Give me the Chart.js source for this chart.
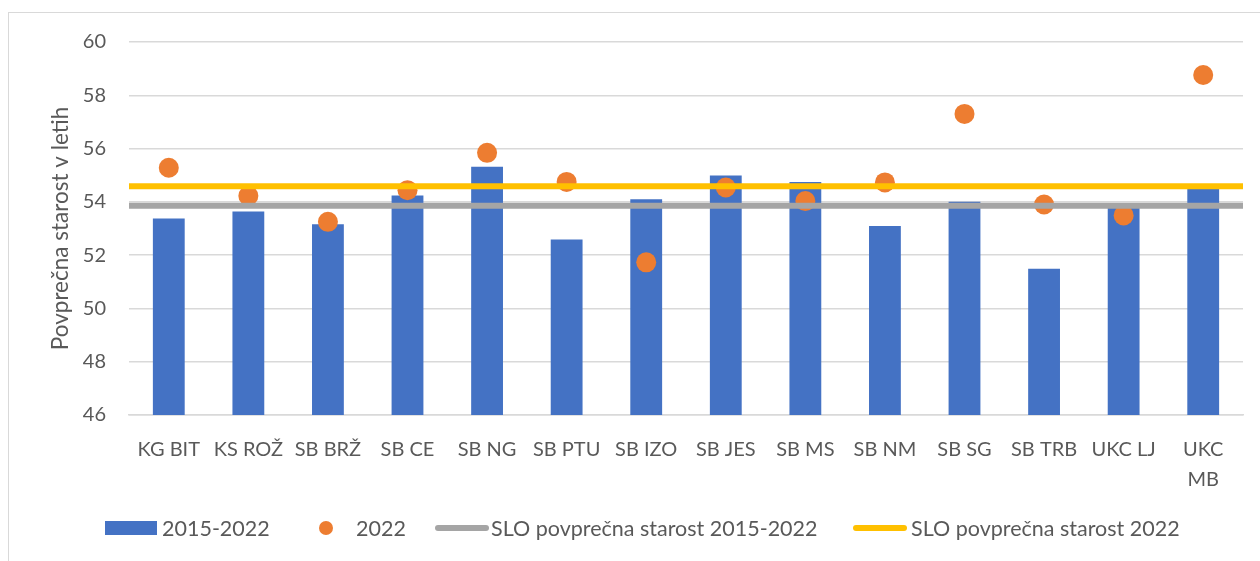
<!DOCTYPE html>
<html>
<head>
<meta charset="utf-8">
<script src="https://cdn.jsdelivr.net/npm/chart.js@4/dist/chart.umd.min.js"></script>
<style>
  body { margin: 0; background: #fff; overflow: hidden; font-family: Lato, sans-serif; }
  #wrap { position: relative; width: 1260px; height: 561px; }
  #frame { position: absolute; left: 8px; top: 12px; width: 1300px; height: 600px; border: 1px solid #d9d9d9; }
  #chart-age { position: absolute; left: 0; top: 0; }
  .lg { position: absolute; top: 528px; transform: translateY(-50%); }
  .lg-text { position: absolute; top: 528px; transform: translateY(-50%); font-size: 21.5px; color: #595959; white-space: nowrap; }
</style>
</head>
<body>
<div id="wrap">
  <div id="frame"></div>
  <canvas id="chart-age" width="1260" height="561"></canvas>
  <div class="lg" style="left:105px;width:52px;height:14px;background:#4472c4"></div>
  <div class="lg-text" style="left:162px">2015-2022</div>
  <div class="lg" style="left:319px;width:14px;height:14px;border-radius:50%;background:#ed7d31"></div>
  <div class="lg-text" style="left:356px">2022</div>
  <div class="lg" style="left:435px;width:54px;height:6px;border-radius:3px;background:#a5a5a5"></div>
  <div class="lg-text" style="left:491px">SLO povprečna starost 2015-2022</div>
  <div class="lg" style="left:853px;width:54px;height:6px;border-radius:3px;background:#ffc000"></div>
  <div class="lg-text" style="left:911px">SLO povprečna starost 2022</div>
</div>
<script>
const categories = ['KG BIT', 'KS ROŽ', 'SB BRŽ', 'SB CE', 'SB NG', 'SB PTU', 'SB IZO',
  'SB JES', 'SB MS', 'SB NM', 'SB SG', 'SB TRB', 'UKC LJ', ['UKC', 'MB']];
const avg2015_2022 = [53.38, 53.64, 53.16, 54.24, 55.32, 52.59, 54.10, 54.99, 54.75, 53.09, 54.00, 51.49, 53.80, 54.48];
const avg2022 = [55.28, 54.23, 53.25, 54.44, 55.84, 54.75, 51.73, 54.54, 54.03, 54.73, 57.30, 53.90, 53.49, 58.76];
const sloAvg2015_2022 = 53.85;
const sloAvg2022 = 54.59;
const yTicks = [46, 48, 50, 52, 54, 56, 58, 60];

const refLines = [
  { value: sloAvg2015_2022, color: '#a5a5a5', width: 6 },
  { value: sloAvg2022, color: '#ffc000', width: 6 }
];

const tickFont = { family: 'Lato', size: 20, lineHeight: 1.5 };
const grey = '#595959';

// SLO averages: horizontal lines across the whole plot, drawn over bars and dots
const refLinePlugin = {
  id: 'refLines',
  afterDatasetsDraw(chart) {
    const { ctx, chartArea, scales } = chart;
    ctx.save();
    refLines.forEach(l => {
      const y = scales.y.getPixelForValue(l.value);
      ctx.beginPath();
      ctx.strokeStyle = l.color;
      ctx.lineWidth = l.width;
      ctx.lineCap = 'butt';
      ctx.moveTo(chartArea.left, y);
      ctx.lineTo(chartArea.right, y);
      ctx.stroke();
    });
    ctx.restore();
  }
};

new Chart(document.getElementById('chart-age'), {
  type: 'bar',
  data: {
    labels: categories,
    datasets: [
      {
        label: '2022',
        type: 'line',
        data: avg2022,
        showLine: false,
        pointRadius: 10,
        pointHoverRadius: 10,
        pointBackgroundColor: '#ed7d31',
        pointBorderWidth: 0,
        order: 1
      },
      {
        label: '2015-2022',
        data: avg2015_2022,
        backgroundColor: '#4472c4',
        grouped: false,
        barPercentage: 0.4,
        categoryPercentage: 1,
        order: 2
      }
    ]
  },
  options: {
    responsive: false,
    animation: false,
    layout: { padding: { left: 0, right: 17, top: 42, bottom: 0 } },
    plugins: { legend: { display: false }, tooltip: { enabled: false } },
    scales: {
      x: {
        offset: true,
        grid: { display: false, drawTicks: false },
        border: { color: '#d9d9d9', width: 1.5 },
        ticks: { font: tickFont, color: grey, padding: 20, maxRotation: 0, autoSkip: false },
        afterFit: (s) => { s.height = 146; }
      },
      y: {
        min: yTicks[0],
        max: yTicks[yTicks.length - 1],
        afterBuildTicks: (s) => { s.ticks = yTicks.map(v => ({ value: v })); },
        grid: { color: '#d9d9d9', lineWidth: 1.5, drawTicks: false },
        border: { display: false },
        ticks: { font: { family: 'Lato', size: 20 }, color: grey, padding: 23 },
        title: {
          display: true,
          text: 'Povprečna starost v letih',
          font: { family: 'Lato', size: 22.5 },
          color: grey,
          padding: { top: 47, bottom: 0 }
        },
        afterFit: (s) => { s.width = 129; }
      }
    }
  },
  plugins: [refLinePlugin]
});
</script>
</body>
</html>
